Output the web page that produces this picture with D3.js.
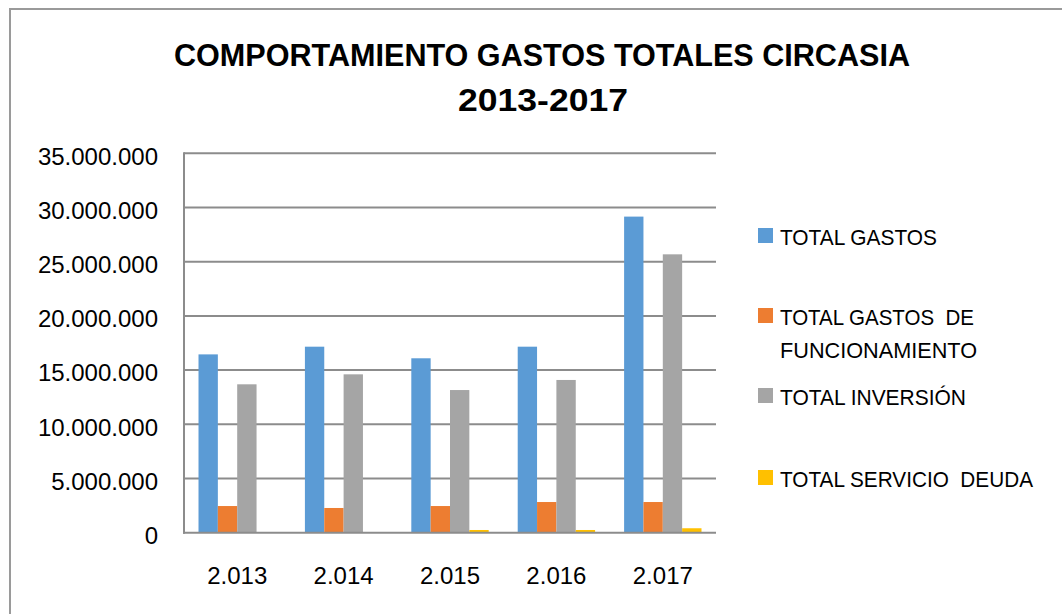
<!DOCTYPE html>
<html lang="es">
<head>
<meta charset="UTF-8">
<title>Comportamiento gastos totales Circasia</title>
<script src="https://d3js.org/d3.v7.min.js"></script>
<style>
  body { margin: 0; background: #fff; }
  svg { display: block; font-family: "Liberation Sans", Arial, sans-serif; }
</style>
</head>
<body>
<svg width="1062" height="614"></svg>
<script>
// data
const years = ["2.013", "2.014", "2.015", "2.016", "2.017"];
const seriesNames = ["TOTAL GASTOS", "TOTAL GASTOS DE FUNCIONAMIENTO", "TOTAL INVERSIÓN", "TOTAL SERVICIO DEUDA"];
const totalGastos = [16450000, 17160000, 16090000, 17160000, 29160000];
const gastosFuncionamiento = [2460000, 2280000, 2460000, 2830000, 2830000];
const totalInversion = [13690000, 14610000, 13160000, 14090000, 25680000];
const servicioDeuda = [20000, 20000, 250000, 250000, 410000];
const yTicks = [0, 5000000, 10000000, 15000000, 20000000, 25000000, 30000000, 35000000];
const colors = ["#5B9BD5", "#ED7D31", "#A5A5A5", "#FFC000"];

const allSeries = [totalGastos, gastosFuncionamiento, totalInversion, servicioDeuda];

const svg = d3.select("svg");

// outer chart border (cut off on right and bottom like the picture)
svg.append("rect")
  .attr("x", 10).attr("y", 9)
  .attr("width", 1070).attr("height", 620)
  .attr("fill", "none")
  .attr("stroke", "#9a9a9a")
  .attr("stroke-width", 2);

// title
svg.append("text")
  .attr("x", 542).attr("y", 66)
  .attr("text-anchor", "middle")
  .attr("font-weight", "bold")
  .attr("font-size", 31)
  .attr("textLength", 736)
  .attr("lengthAdjust", "spacingAndGlyphs")
  .text("COMPORTAMIENTO GASTOS TOTALES CIRCASIA");
svg.append("text")
  .attr("x", 543).attr("y", 111)
  .attr("text-anchor", "middle")
  .attr("font-weight", "bold")
  .attr("font-size", 31)
  .attr("textLength", 170)
  .attr("lengthAdjust", "spacingAndGlyphs")
  .text("2013-2017");

const plot = { left: 184, right: 716, top: 153.3, bottom: 532.7 };

const x0 = d3.scaleBand()
  .domain(years)
  .range([plot.left, plot.right]);

// gap width 150% like the spreadsheet default
const x1 = d3.scaleBand()
  .domain(d3.range(allSeries.length))
  .range([0, x0.bandwidth()])
  .paddingOuter(0.75)
  .paddingInner(0);

const y = d3.scaleLinear()
  .domain([0, 35000000])
  .range([plot.bottom, plot.top]);

const fmt = d3.formatLocale({ decimal: ",", thousands: ".", grouping: [3], currency: ["$", ""] }).format(",d");

// gridlines
svg.append("g")
  .selectAll("line")
  .data(yTicks.filter(d => d > 0))
  .join("line")
  .attr("x1", plot.left).attr("x2", plot.right)
  .attr("y1", d => y(d)).attr("y2", d => y(d))
  .attr("stroke", "#8c8c8c")
  .attr("stroke-width", 2);

// bars
const groups = svg.append("g")
  .selectAll("g")
  .data(years)
  .join("g")
  .attr("transform", d => `translate(${x0(d)},0)`);

groups.selectAll("rect")
  .data((d, i) => allSeries.map((s, k) => ({ k, v: s[i] })))
  .join("rect")
  .attr("x", d => x1(d.k))
  .attr("width", x1.bandwidth())
  .attr("y", d => y(d.v))
  .attr("height", d => plot.bottom - y(d.v))
  .attr("fill", d => colors[d.k]);

// y axis
const yAxis = svg.append("g")
  .attr("transform", `translate(${plot.left},0)`)
  .call(d3.axisLeft(y).tickValues(yTicks).tickFormat(fmt).tickSize(0).tickPadding(26));
yAxis.select(".domain")
  .attr("stroke", "#8c8c8c")
  .attr("stroke-width", 2)
  .attr("d", `M0,${plot.top - 1}V${plot.bottom + 1}`);
yAxis.selectAll("text")
  .attr("font-size", 24)
  .attr("font-family", "Liberation Sans, Arial, sans-serif")
  .attr("fill", "#000")
  .attr("dy", "0.45em");

// x axis
const xAxis = svg.append("g")
  .attr("transform", `translate(0,${plot.bottom})`)
  .call(d3.axisBottom(x0).tickSize(0).tickPadding(34));
xAxis.select(".domain")
  .attr("stroke", "#8c8c8c")
  .attr("stroke-width", 2)
  .attr("d", `M${plot.left - 1},0H${plot.right}`);
xAxis.selectAll("text")
  .attr("font-size", 24)
  .attr("font-family", "Liberation Sans, Arial, sans-serif")
  .attr("fill", "#000");

// legend
const legendItems = [
  { lines: ["TOTAL GASTOS"], y: 228, widths: [157] },
  { lines: ["TOTAL GASTOS  DE", "FUNCIONAMIENTO"], y: 308, widths: [194, 197] },
  { lines: ["TOTAL INVERSIÓN"], y: 388, widths: [186] },
  { lines: ["TOTAL SERVICIO  DEUDA"], y: 470, widths: [253] }
];

const legend = svg.append("g");
legendItems.forEach((item, i) => {
  legend.append("rect")
    .attr("x", 758).attr("y", item.y)
    .attr("width", 15).attr("height", 15)
    .attr("fill", colors[i]);
  item.lines.forEach((line, j) => {
    legend.append("text")
      .attr("x", 780)
      .attr("y", item.y + 17 + j * 32.7)
      .attr("font-size", 22)
      .attr("textLength", item.widths[j])
      .attr("lengthAdjust", "spacingAndGlyphs")
      .attr("xml:space", "preserve")
      .style("white-space", "pre")
      .text(line);
  });
});
</script>
</body>
</html>
